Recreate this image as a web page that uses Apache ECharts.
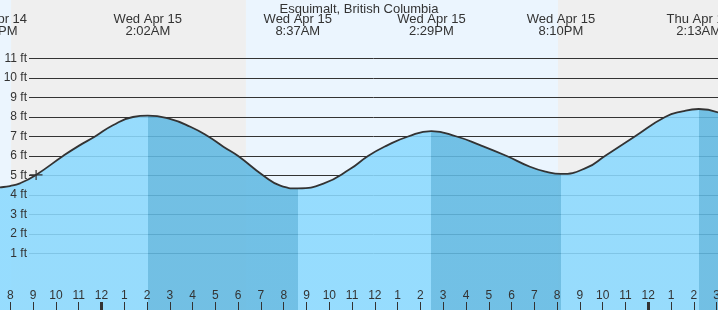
<!DOCTYPE html>
<html><head><meta charset="utf-8">
<script src="https://cdn.jsdelivr.net/npm/echarts@6/dist/echarts.min.js"></script>
<style>html,body{margin:0;padding:0;background:#ebf5fe}#c{width:718px;height:310px}</style>
</head><body><div id="c"></div>
<script>
// ---- data (hours relative to Wed Apr 15 00:00, heights in ft) ----
const stationName = 'Esquimalt, British Columbia';
const tideTimes   = [-4.67, -4.46, -4.02, -3.58, -2.875, -1.69, -1.0, -0.285, 0.5, 1.38, 2.033, 3.0, 3.9, 4.69, 5.35, 6.0, 7.1, 7.85, 8.617, 9.74, 10.91, 11.7, 12.5, 13.46, 14.483, 15.59, 16.62, 17.79, 18.81, 19.5, 20.167, 21.3, 22.1, 23.41, 24.74, 25.5, 26.217, 27.1];
const tideHeights = [4.37, 4.39, 4.46, 4.60, 5.03, 6.0, 6.52, 7.0, 7.58, 8.0, 8.07, 7.9, 7.5, 7.0, 6.48, 6.0, 5.0, 4.48, 4.34, 4.58, 5.33, 6.0, 6.52, 7.0, 7.28, 7.0, 6.56, 6.0, 5.45, 5.2, 5.08, 5.4, 6.0, 7.0, 8.0, 8.29, 8.41, 8.22];
const extremeTimes  = [-4.67, 2.033, 8.617, 14.483, 20.167, 26.217];
const extremeKinds  = ['low', 'high', 'low', 'high', 'low', 'high'];
const extremeLabels = ['Tue Apr 14\n7:20PM', 'Wed Apr 15\n2:02AM', 'Wed Apr 15\n8:37AM', 'Wed Apr 15\n2:29PM', 'Wed Apr 15\n8:10PM', 'Thu Apr 16\n2:13AM'];
const nightStarts = [-3.97, 20.04];
const nightEnds   = [6.34, 28];
const nowTime = -2.875;
const nowHeight = 5.03;
const ftTicks  = [1, 2, 3, 4, 5, 6, 7, 8, 9, 10, 11];
const ftLabels = ['1 ft', '2 ft', '3 ft', '4 ft', '5 ft', '6 ft', '7 ft', '8 ft', '9 ft', '10 ft', '11 ft'];
const hourTicks  = [-4, -3, -2, -1, 0, 1, 2, 3, 4, 5, 6, 7, 8, 9, 10, 11, 12, 13, 14, 15, 16, 17, 18, 19, 20, 21, 22, 23, 24, 25, 26, 27];
const hourLabels = ['8', '9', '10', '11', '12', '1', '2', '3', '4', '5', '6', '7', '8', '9', '10', '11', '12', '1', '2', '3', '4', '5', '6', '7', '8', '9', '10', '11', '12', '1', '2', '3'];
const midnightTicks = [0, 24];

// ---- layout ----
const PX_MIDNIGHT = 101.5, PX_PER_HOUR = 22.78, W = 718;
const X_MIN = -5, X_MAX = 28, Y_MIN = -2, Y_MAX = 14;
const gridLeft = PX_MIDNIGHT + X_MIN * PX_PER_HOUR;
const gridRight = W - (PX_MIDNIGHT + X_MAX * PX_PER_HOUR);
const LIGHT = '#8bd9fe', DARK = '#61b9e2', TXT = '#333';
const FONT = '"Liberation Sans", Arial, sans-serif';

function lookup(keys, labels, v) {
  for (let i = 0; i < keys.length; i++) if (Math.abs(keys[i] - v) < 1e-6) return labels[i];
  return '';
}

const tideData = tideTimes.map((t, i) => [t, tideHeights[i]]);

const splitColors = [];
for (let v = Y_MIN; v <= Y_MAX; v++) splitColors.push(ftTicks.indexOf(v) >= 0 ? '#333' : 'rgba(0,0,0,0)');

const pieces = [];
pieces.push({ lt: extremeTimes[0], color: extremeKinds[0] === 'low' ? DARK : LIGHT });
for (let i = 0; i < extremeTimes.length - 1; i++) {
  pieces.push({ gte: extremeTimes[i], lt: extremeTimes[i + 1], color: extremeKinds[i] === 'high' ? DARK : LIGHT });
}
const last = extremeTimes.length - 1;
pieces.push({ gte: extremeTimes[last], color: extremeKinds[last] === 'high' ? DARK : LIGHT });

const nightAreas = nightStarts.map((s, i) => [{ xAxis: s }, { xAxis: nightEnds[i] }]);

const gridBase = { top: 0, bottom: -2, containLabel: false, outerBoundsMode: 'none' };

const chart = echarts.init(document.getElementById('c'), null, { renderer: 'canvas' });
chart.setOption({
  animation: false,
  backgroundColor: '#ebf5fe',
  textStyle: { fontFamily: FONT },
  title: {
    text: stationName, left: 'center', top: -2,
    textStyle: { fontSize: 13, fontWeight: 'normal', color: TXT, fontFamily: FONT }
  },
  grid: [
    Object.assign({ left: 29, right: 0 }, gridBase),
    Object.assign({ left: gridLeft, right: gridRight }, gridBase),
    Object.assign({ left: gridLeft, right: gridRight }, gridBase)
  ],
  xAxis: [
    { gridIndex: 0, type: 'value', min: X_MIN, max: X_MAX, show: false },
    { gridIndex: 1, type: 'value', min: X_MIN, max: X_MAX, position: 'bottom', z: 10,
      axisLine: { show: false, onZero: false }, splitLine: { show: false },
      axisTick: { show: true, inside: true, length: 10, customValues: hourTicks, lineStyle: { color: TXT, width: 1 } },
      axisLabel: { show: true, inside: true, margin: 10, customValues: hourTicks, color: TXT, fontSize: 12, fontFamily: FONT,
        formatter: v => lookup(hourTicks, hourLabels, v) } },
    { gridIndex: 1, type: 'value', min: X_MIN, max: X_MAX, position: 'top', z: 10,
      axisLine: { show: false, onZero: false }, splitLine: { show: false }, axisTick: { show: false },
      axisLabel: { show: true, inside: true, margin: 13, customValues: extremeTimes, color: TXT, fontSize: 13, lineHeight: 12,
        fontFamily: FONT, align: 'center', formatter: v => lookup(extremeTimes, extremeLabels, v) } },
    { gridIndex: 2, type: 'value', min: X_MIN, max: X_MAX, position: 'bottom', z: 11,
      axisLine: { show: false, onZero: false }, splitLine: { show: false }, axisLabel: { show: false },
      axisTick: { show: true, inside: true, length: 10, customValues: midnightTicks, lineStyle: { color: TXT, width: 3 } } }
  ],
  yAxis: [
    { gridIndex: 0, type: 'value', min: Y_MIN, max: Y_MAX, interval: 1, position: 'right', z: 1,
      axisLine: { show: false, onZero: false }, axisTick: { show: false }, axisLabel: { show: false },
      splitLine: { show: true, showMinLine: true, showMaxLine: true, lineStyle: { color: splitColors, width: 1 } } },
    { gridIndex: 0, type: 'value', min: Y_MIN, max: Y_MAX, position: 'left', z: 10,
      axisLine: { show: false, onZero: false }, axisTick: { show: false }, splitLine: { show: false },
      axisLabel: { show: true, margin: 2, customValues: ftTicks, color: TXT, fontSize: 12, fontFamily: FONT,
        formatter: v => lookup(ftTicks, ftLabels, v) } },
    { gridIndex: 1, type: 'value', min: Y_MIN, max: Y_MAX, show: false },
    { gridIndex: 2, type: 'value', min: Y_MIN, max: Y_MAX, show: false }
  ],
  visualMap: {
    type: 'piecewise', show: false, seriesIndex: 0, dimension: 0, pieces: pieces
  },
  series: [
    { type: 'line', xAxisIndex: 1, yAxisIndex: 2, data: tideData, smooth: 0.5,
      showSymbol: false, silent: true, z: 2,
      lineStyle: { width: 0, opacity: 0 }, areaStyle: { opacity: 0.88, origin: 'start' },
      markArea: { silent: true, z: 0, itemStyle: { color: '#efefef' }, data: nightAreas } },
    { type: 'line', xAxisIndex: 1, yAxisIndex: 2, data: tideData, smooth: 0.5,
      showSymbol: false, silent: true, z: 3,
      lineStyle: { color: '#333', width: 1.8 }, itemStyle: { color: '#333' } },
    { type: 'scatter', xAxisIndex: 1, yAxisIndex: 2, data: [[nowTime, nowHeight]], z: 4, silent: true,
      symbol: 'path://M0,4.4h13v1.2h-13z M6,0h1.2v10h-1.2z', symbolSize: [13, 10],
      itemStyle: { color: '#333', opacity: 1 } }
  ]
});
</script></body></html>
